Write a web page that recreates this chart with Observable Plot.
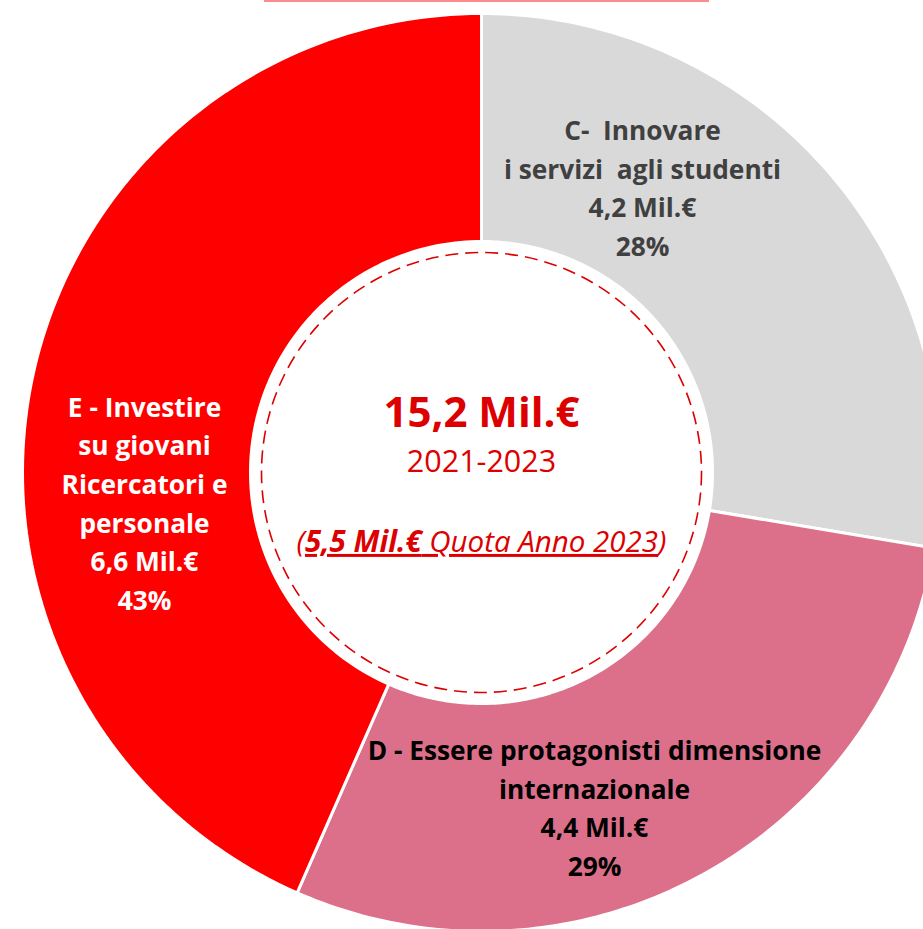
<!DOCTYPE html>
<html><head><meta charset="utf-8">
<script src="https://cdn.jsdelivr.net/npm/d3@7"></script>
<script src="https://cdn.jsdelivr.net/npm/@observablehq/plot@0.6"></script>
<style>
body{margin:0;background:#fff;}
#wrap{position:relative;width:923px;height:929px;overflow:hidden;}
#topbar{position:absolute;left:264px;top:0;width:445px;height:2px;background:#ff8c8c;}
svg text{white-space:pre;}
</style></head><body><div id="wrap"><div id="topbar"></div></div>
<script>
// ---- data ----
const categories = ["C", "D", "E"];
const titles = [
  "C-  Innovare\ni servizi  agli studenti",
  "D - Essere protagonisti dimensione\ninternazionale",
  "E - Investire\nsu giovani\nRicercatori e\npersonale"
];
const amounts = [4.2, 4.4, 6.6];      // Mil.€
const percents = [28, 29, 43];        // %
const total = 15.2;                   // Mil.€
const period = "2021-2023";
const quota = 5.5;                    // Mil.€
const quotaNote = "Quota Anno 2023";

// ---- styles ----
const sliceColors = ["#d9d9d9", "#dc708a", "#ff0000"];
const textColors = ["#404040", "#000000", "#ffffff"];
const centerColor = "#dc0000";
const FONT = "'Open Sans', Lato, sans-serif";

// ---- layout ----
const W = 923, H = 929, CX = 481, CY = 472;
const R_OUT = 459, R_IN = 231, R_DASH = 220;
const labelOffset = {C: [161, 287], D: [113, -333], E: [-337, -28.5]};
const LABEL_SIZE = 26.3;

const fmt = v => v.toFixed(1).replace(".", ",") + " Mil.€";

const pie = d3.pie().sort(null).value(d => d)(amounts);
const arcRows = [];
pie.forEach((p, i) => {
  const n = 120;
  for (let k = 0; k <= n; k++) {
    const a = p.startAngle + (p.endAngle - p.startAngle) * k / n;
    arcRows.push({cat: categories[i], color: sliceColors[i], x: Math.sin(a) * R_OUT, y: Math.cos(a) * R_OUT});
  }
  for (let k = n; k >= 0; k--) {
    const a = p.startAngle + (p.endAngle - p.startAngle) * k / n;
    arcRows.push({cat: categories[i], color: sliceColors[i], x: Math.sin(a) * R_IN, y: Math.cos(a) * R_IN});
  }
});

const labelRows = categories.map((c, i) => ({
  x: labelOffset[c][0], y: labelOffset[c][1],
  text: titles[i] + "\n" + fmt(amounts[i]) + "\n" + percents[i] + "%",
  color: textColors[i]
}));

const quotaText = "(" + fmt(quota) + " " + quotaNote + ")";

const chart = Plot.plot({
  width: W, height: H,
  margin: 0,
  x: {domain: [-CX, W - CX], axis: null},
  y: {domain: [-(H - CY), CY], axis: null},
  color: {type: "identity"},
  style: {fontFamily: FONT, background: "transparent"},
  marks: [
    Plot.line(arcRows, {x: "x", y: "y", z: "cat", fill: "color", stroke: "white", strokeWidth: 3, curve: "linear-closed"}),
    Plot.dot([0], {x: () => 0, y: () => 0, r: R_DASH, stroke: centerColor, strokeWidth: 1.6, strokeDasharray: "13,7", fill: "none"}),
    Plot.text(labelRows, {x: "x", y: "y", text: "text", fill: "color", fontSize: LABEL_SIZE, fontWeight: "bold", lineHeight: 38.7 / LABEL_SIZE, lineAnchor: "middle", textAnchor: "middle"}),
    Plot.text([fmt(total)], {x: () => 0, y: () => 59, text: d => d, fill: centerColor, fontSize: 42, fontWeight: "bold", lineAnchor: "middle"}),
    Plot.text([period], {x: () => 0, y: () => 10, text: d => d, fill: centerColor, fontSize: 30.5, lineAnchor: "middle"}),
    Plot.text([quotaText], {x: () => 0, y: () => -70, text: d => d, fill: centerColor, fontSize: 29.5, fontStyle: "italic", lineAnchor: "middle"})
  ]
});

document.getElementById("wrap").appendChild(chart);

// rich formatting of the quota line
d3.select(chart).selectAll("text").filter(function() { return this.textContent === quotaText; }).each(function() {
  const t = d3.select(this);
  t.text(null);
  t.append("tspan").text("(");
  const u = t.append("tspan").style("text-decoration", "underline");
  u.append("tspan").attr("font-weight", "bold").text(fmt(quota));
  u.append("tspan").text(" " + quotaNote);
  t.append("tspan").text(")");
});
</script>
</body></html>
